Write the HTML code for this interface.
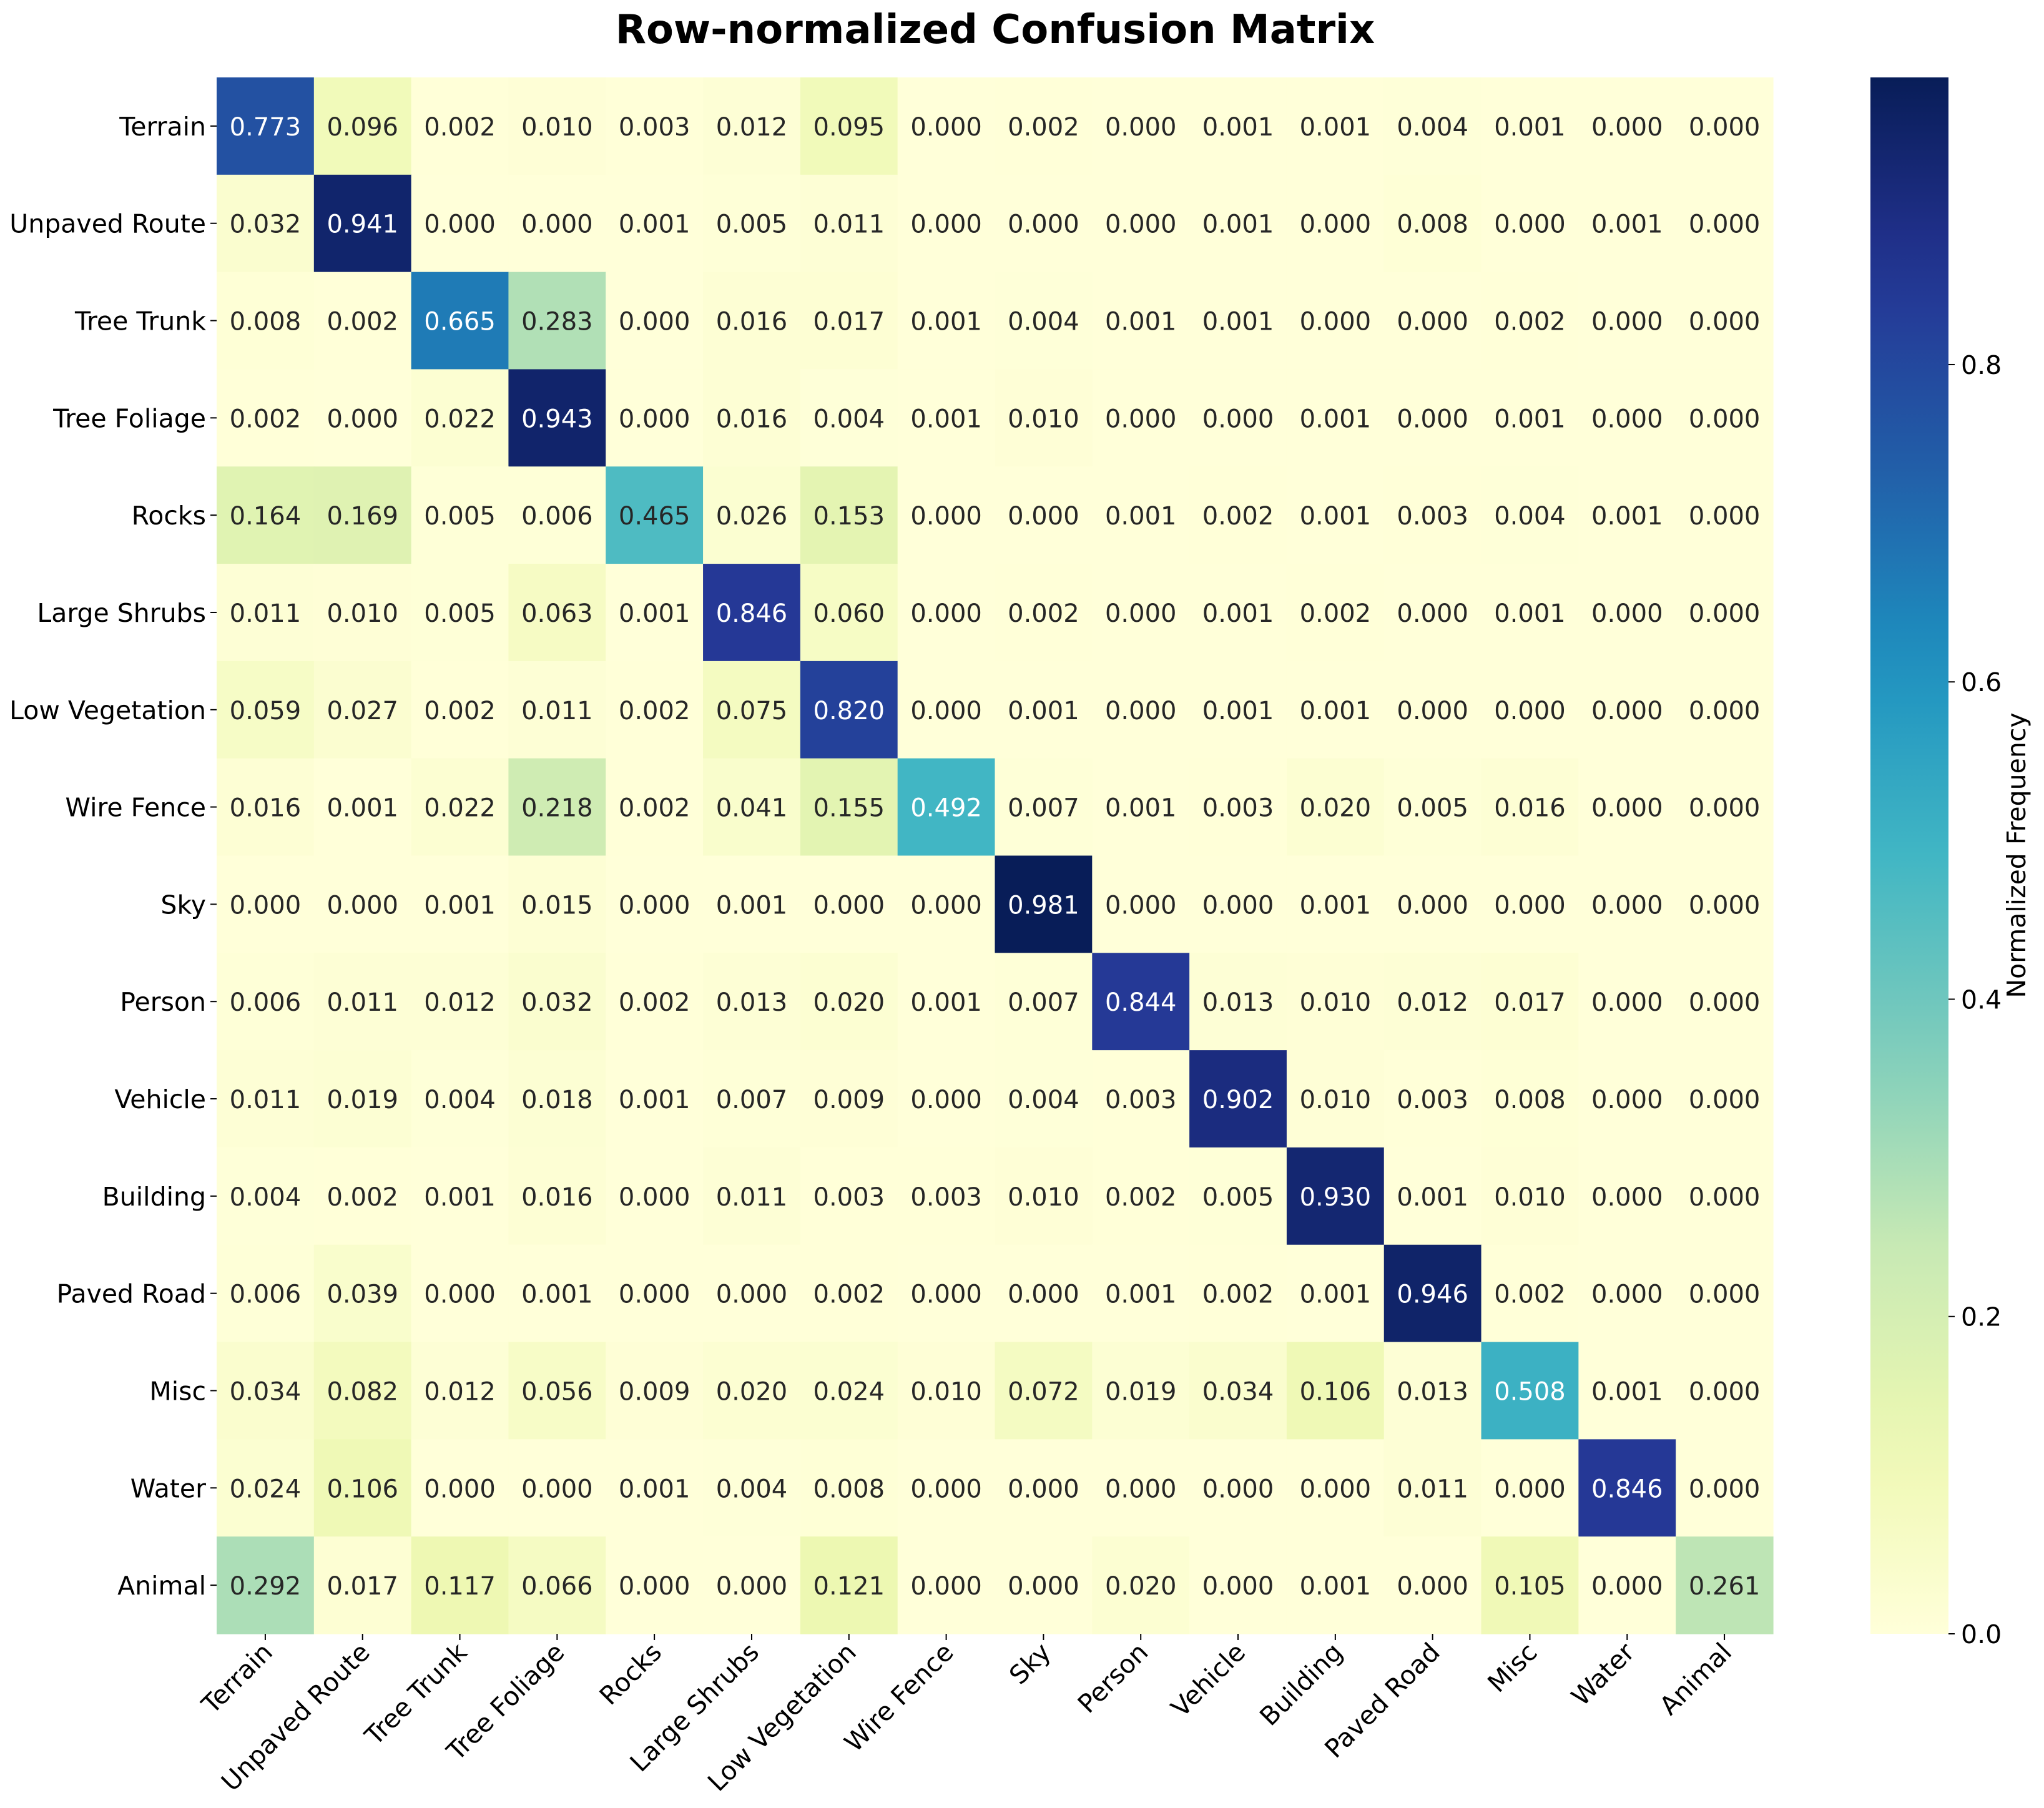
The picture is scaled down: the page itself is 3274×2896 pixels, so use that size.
<!DOCTYPE html>
<html><head><meta charset="utf-8"><style>
html,body{margin:0;padding:0;background:#fff;}
svg{display:block;font-family:"DejaVu Sans","Liberation Sans",sans-serif;}
</style></head><body>
<svg id="chart" width="3274" height="2896" viewBox="0 0 3274 2896" xmlns="http://www.w3.org/2000/svg">
<defs>
<linearGradient id="cbgrad" x1="0" y1="1" x2="0" y2="0"></linearGradient>
</defs>
<text x="1594" y="69" text-anchor="middle" font-size="64" font-weight="bold" fill="#000">Row-normalized Confusion Matrix</text>
<g id="cells"></g>
<g id="ylabels"></g>
<g id="xlabels"></g>
<rect id="cbar" x="2996" y="124" width="125" height="2493" fill="url(#cbgrad)"></rect>
<g id="cbticks"></g>
<text transform="translate(3244,1370) rotate(-90)" text-anchor="middle" font-size="41" fill="#000">Normalized Frequency</text>
</svg>
<script>
const categories = ["Terrain","Unpaved Route","Tree Trunk","Tree Foliage","Rocks","Large Shrubs","Low Vegetation","Wire Fence","Sky","Person","Vehicle","Building","Paved Road","Misc","Water","Animal"];
const row0  = [0.773,0.096,0.002,0.010,0.003,0.012,0.095,0.000,0.002,0.000,0.001,0.001,0.004,0.001,0.000,0.000];
const row1  = [0.032,0.941,0.000,0.000,0.001,0.005,0.011,0.000,0.000,0.000,0.001,0.000,0.008,0.000,0.001,0.000];
const row2  = [0.008,0.002,0.665,0.283,0.000,0.016,0.017,0.001,0.004,0.001,0.001,0.000,0.000,0.002,0.000,0.000];
const row3  = [0.002,0.000,0.022,0.943,0.000,0.016,0.004,0.001,0.010,0.000,0.000,0.001,0.000,0.001,0.000,0.000];
const row4  = [0.164,0.169,0.005,0.006,0.465,0.026,0.153,0.000,0.000,0.001,0.002,0.001,0.003,0.004,0.001,0.000];
const row5  = [0.011,0.010,0.005,0.063,0.001,0.846,0.060,0.000,0.002,0.000,0.001,0.002,0.000,0.001,0.000,0.000];
const row6  = [0.059,0.027,0.002,0.011,0.002,0.075,0.820,0.000,0.001,0.000,0.001,0.001,0.000,0.000,0.000,0.000];
const row7  = [0.016,0.001,0.022,0.218,0.002,0.041,0.155,0.492,0.007,0.001,0.003,0.020,0.005,0.016,0.000,0.000];
const row8  = [0.000,0.000,0.001,0.015,0.000,0.001,0.000,0.000,0.981,0.000,0.000,0.001,0.000,0.000,0.000,0.000];
const row9  = [0.006,0.011,0.012,0.032,0.002,0.013,0.020,0.001,0.007,0.844,0.013,0.010,0.012,0.017,0.000,0.000];
const row10 = [0.011,0.019,0.004,0.018,0.001,0.007,0.009,0.000,0.004,0.003,0.902,0.010,0.003,0.008,0.000,0.000];
const row11 = [0.004,0.002,0.001,0.016,0.000,0.011,0.003,0.003,0.010,0.002,0.005,0.930,0.001,0.010,0.000,0.000];
const row12 = [0.006,0.039,0.000,0.001,0.000,0.000,0.002,0.000,0.000,0.001,0.002,0.001,0.946,0.002,0.000,0.000];
const row13 = [0.034,0.082,0.012,0.056,0.009,0.020,0.024,0.010,0.072,0.019,0.034,0.106,0.013,0.508,0.001,0.000];
const row14 = [0.024,0.106,0.000,0.000,0.001,0.004,0.008,0.000,0.000,0.000,0.000,0.000,0.011,0.000,0.846,0.000];
const row15 = [0.292,0.017,0.117,0.066,0.000,0.000,0.121,0.000,0.000,0.020,0.000,0.001,0.000,0.105,0.000,0.261];
const matrix = [row0,row1,row2,row3,row4,row5,row6,row7,row8,row9,row10,row11,row12,row13,row14,row15];
const cbTicks = [0.0,0.2,0.4,0.6,0.8];
const cbTickLabels = ["0.0","0.2","0.4","0.6","0.8"];

const NS="http://www.w3.org/2000/svg";
const X0=347,X1=2840,Y0=124,Y1=2617;
const n=categories.length;
const cw=(X1-X0)/n, ch=(Y1-Y0)/n;
const vmin=0, vmax=Math.max(...matrix.flat());
const xPos=i=>X0+i*cw, yPos=i=>Y0+i*ch;
const cbY=v=>Y1-(v-vmin)/(vmax-vmin)*(Y1-Y0);
const stops=["#ffffd9","#edf8b1","#c7e9b4","#7fcdbb","#41b6c4","#1d91c0","#225ea8","#253494","#081d58"].map(h=>[1,3,5].map(k=>parseInt(h.substr(k,2),16)));
function cmap(v){let t=Math.max(0,Math.min(1,(v-vmin)/(vmax-vmin)))*(stops.length-1);let i=Math.min(Math.floor(t),stops.length-2);let f=t-i;return stops[i].map((c,k)=>c+(stops[i+1][k]-c)*f);}
function lum(c){const l=c.map(x=>{x/=255;return x<=0.03928?x/12.92:Math.pow((x+0.055)/1.055,2.4);});return 0.2126*l[0]+0.7152*l[1]+0.0722*l[2];}
function mk(tag,attrs,parent){const e=document.createElementNS(NS,tag);for(const k in attrs)e.setAttribute(k,attrs[k]);parent.appendChild(e);return e;}

const gc=document.getElementById('cells');
matrix.forEach((row,r)=>row.forEach((v,c)=>{
  const col=cmap(v);
  const rect=mk('rect',{x:xPos(c),y:yPos(r),width:cw+0.6,height:ch+0.6,fill:`rgb(${col.map(Math.round).join(',')})`},gc);
  
  
  const t=mk('text',{x:xPos(c)+cw/2,y:yPos(r)+ch/2+15,'text-anchor':'middle','font-size':'40',fill:lum(col)<0.408?'#ffffff':'#262626'},gc);
  
  
  t.textContent=v.toFixed(3);
}));
const gy=document.getElementById('ylabels');
categories.forEach((name,i)=>{
  const y=yPos(i)+ch/2;
  const tk=mk('line',{x1:X0-10,x2:X0,y1:y,y2:y,stroke:'#000','stroke-width':'2'},gy);
  
  
  const t=mk('text',{x:X0-17,y:y+15,'text-anchor':'end','font-size':'41',fill:'#000'},gy);
  
  
  t.textContent=name;
});
const gx=document.getElementById('xlabels');
categories.forEach((name,i)=>{
  const x=xPos(i)+cw/2;
  const tk=mk('line',{x1:x,x2:x,y1:Y1,y2:Y1+10,stroke:'#000','stroke-width':'2'},gx);
  
  
  const t=mk('text',{transform:`translate(${x+14},${Y1+32}) rotate(-45)`,'text-anchor':'end','font-size':'41',fill:'#000'},gx);
  
  
  t.textContent=name;
});
const grad=document.getElementById('cbgrad');
for(let k=0;k<=20;k++){const col=cmap(vmin+(vmax-vmin)*k/20);mk('stop',{offset:(k/20),'stop-color':`rgb(${col.map(Math.round).join(',')})`},grad);}
const gt=document.getElementById('cbticks');
cbTicks.forEach((v,i)=>{
  const y=cbY(v);
  const tk=mk('line',{x1:3121,x2:3131,y1:y,y2:y,stroke:'#000','stroke-width':'2'},gt);
  
  
  const t=mk('text',{x:3141,y:y+15,'font-size':'41',fill:'#000'},gt);
  
  
  t.textContent=cbTickLabels[i];
});
</script>
</body></html>
